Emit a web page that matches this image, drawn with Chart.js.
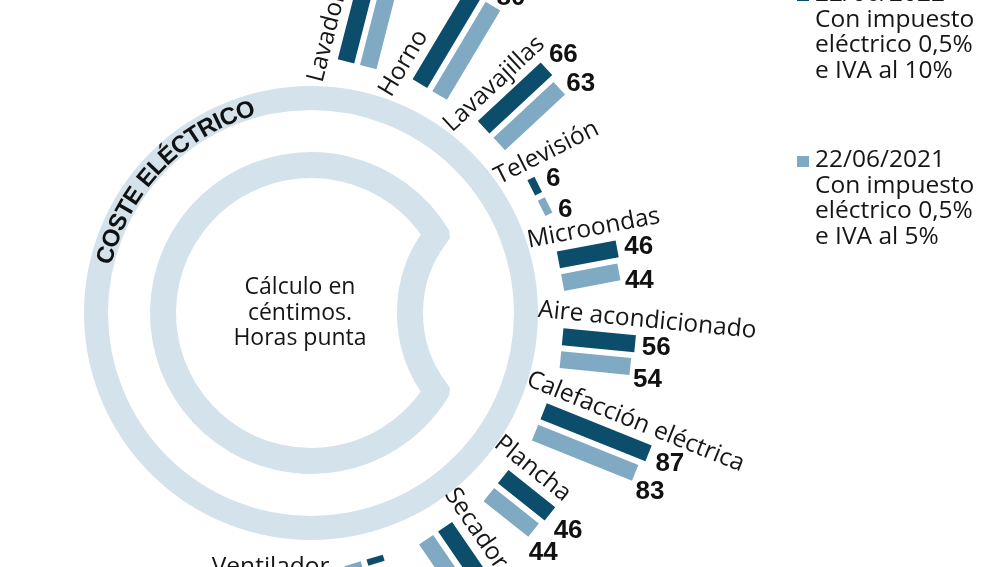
<!DOCTYPE html>
<html lang="es">
<head>
<meta charset="utf-8">
<title>Coste eléctrico</title>
<script src="https://cdn.jsdelivr.net/npm/chart.js@4/dist/chart.umd.min.js"></script>
<style>
  html, body { margin: 0; padding: 0; background: #fff; }
  #wrap { width: 1000px; height: 567px; position: relative; }
</style>
</head>
<body>
<div id="wrap"><canvas id="chart"></canvas></div>
<script>
// datos (céntimos por uso, horas punta)
const categorias = ['Lavadora', 'Horno', 'Lavavajillas', 'Televisión', 'Microondas', 'Aire acondicionado', 'Calefacción eléctrica', 'Plancha', 'Secador', 'Ventilador'];
const coste2022 = [61, 84, 66, 6, 46, 56, 87, 46, 45, 5];
const coste2021 = [58, 80, 63, 6, 44, 54, 83, 44, 43, 5];
const leyenda2022 = ['22/06/2022', 'Con impuesto', 'eléctrico 0,5%', 'e IVA al 10%'];
const leyenda2021 = ['22/06/2021', 'Con impuesto', 'eléctrico 0,5%', 'e IVA al 5%'];
const titulo = 'COSTE ELÉCTRICO';
const nota = ['Cálculo en', 'céntimos.', 'Horas punta'];

const OSCURO = '#0b4d6b';
const CLARO = '#80a9c3';
const ARO = '#d3e2eb';
const TEXTO = '#161616';

// geometría del gráfico radial (en unidades de los ejes, 1 unidad = 1 px)
const CX = 311, CY = 313;
const FOCO_X = 291, FOCO_Y = 322;
const R_INICIO = 253;
const ANG_INICIO = -79.5, PASO = 17.5;
const PX_CENT = 1.3;
const GROSOR = 17;
const SEP = 11.5;
const deg = Math.PI / 180;

function geometria(i) {
    const a = (ANG_INICIO + i * PASO) * deg;
    const sx = CX + R_INICIO * Math.cos(a);
    const sy = CY + R_INICIO * Math.sin(a);
    const d = Math.atan2(sy - FOCO_Y, sx - FOCO_X);
    return { a, sx, sy, d, ux: Math.cos(d), uy: Math.sin(d), nx: Math.sin(d), ny: -Math.cos(d) };
}

function puntosBarras(valores, desplaz) {
    const pts = [];
    valores.forEach((v, i) => {
        const g = geometria(i);
        const x0 = g.sx + desplaz * g.nx;
        const y0 = g.sy + desplaz * g.ny;
        pts.push({ x: x0, y: y0 });
        pts.push({ x: x0 + v * PX_CENT * g.ux, y: y0 + v * PX_CENT * g.uy });
        pts.push({ x: null, y: null });
    });
    return pts;
}

const decoracion = {
    id: 'decoracion',
    beforeDatasetsDraw(chart) {
        const { ctx, scales: { x, y } } = chart;
        const px = v => x.getPixelForValue(v);
        const py = v => y.getPixelForValue(v);
        const cx = px(CX), cy = py(CY);
        ctx.save();
        ctx.strokeStyle = ARO;
        ctx.lineJoin = 'miter';

        // aro exterior
        ctx.lineWidth = 24;
        ctx.beginPath();
        ctx.arc(cx, cy, 215, 0, 2 * Math.PI);
        ctx.stroke();

        // aro interior con mordisco a la derecha
        ctx.lineWidth = 26;
        ctx.beginPath();
        ctx.arc(cx, cy, 148, -32 * deg, 32 * deg, true);
        ctx.arc(px(539), py(313), 129, 142.6 * deg, 217.4 * deg, false);
        ctx.closePath();
        ctx.stroke();

        // título curvo
        ctx.fillStyle = '#111';
        ctx.font = 'bold 24px "Liberation Sans", Arial, sans-serif';
        ctx.textAlign = 'center';
        ctx.textBaseline = 'alphabetic';
        const rT = 214;
        const total = ctx.measureText(titulo).width;
        let ang = 224 * deg - total / rT / 2;
        for (const ch of titulo) {
            const w = ctx.measureText(ch).width;
            const am = ang + w / 2 / rT;
            ctx.save();
            ctx.translate(cx + rT * Math.cos(am), cy + rT * Math.sin(am));
            ctx.rotate(am + Math.PI / 2);
            ctx.fillText(ch, 0, 8.6);
            ctx.restore();
            ang += w / rT;
        }

        // nota central
        ctx.fillStyle = TEXTO;
        ctx.font = '23px "Open Sans", sans-serif';
        nota.forEach((t, k) => ctx.fillText(t, px(300), py(294 + k * 25.5)));

        // leyenda
        ctx.textAlign = 'left';
        ctx.font = '24.5px "Open Sans", sans-serif';
        [[leyenda2022, OSCURO, 1], [leyenda2021, CLARO, 167]].forEach(([lineas, color, base]) => {
            ctx.fillStyle = color;
            ctx.fillRect(px(797), py(base - 11), 12, 11);
            ctx.fillStyle = TEXTO;
            lineas.forEach((t, k) => ctx.fillText(t, px(815), py(base + k * 25.5)));
        });
        ctx.restore();
    },
    afterDatasetsDraw(chart) {
        const { ctx, scales: { x, y } } = chart;
        const px = v => x.getPixelForValue(v);
        const py = v => y.getPixelForValue(v);
        ctx.save();

        // nombres de categoría
        ctx.fillStyle = TEXTO;
        ctx.font = '24.5px "Open Sans", sans-serif';
        ctx.textBaseline = 'alphabetic';
        categorias.forEach((nombre, i) => {
            const g = geometria(i);
            if (g.a > 70 * deg) {
                ctx.textAlign = 'right';
                ctx.fillText(nombre, px(g.sx - 34), py(g.sy + 13.5));
                return;
            }
            ctx.textAlign = 'left';
            ctx.save();
            ctx.translate(px(g.sx - 27 * g.ux + 29 * g.nx), py(g.sy - 27 * g.uy + 29 * g.ny));
            ctx.rotate(g.d);
            ctx.fillText(nombre, 0, 0);
            ctx.restore();
        });

        // valores al final de cada barra
        ctx.fillStyle = '#111';
        ctx.font = 'bold 26px "Liberation Sans", Arial, sans-serif';
        ctx.textAlign = 'center';
        ctx.textBaseline = 'alphabetic';
        [[coste2022, 0, 6], [coste2021, -10, 3]].forEach(([valores, off, hueco], ds) => {
            const meta = chart.getDatasetMeta(ds);
            valores.forEach((v, i) => {
                const g = geometria(i);
                const fin = meta.data[3 * i + 1];
                const t = String(v);
                const w = ctx.measureText(t).width;
                const ext = hueco + Math.abs(g.ux) * w / 2 + Math.abs(g.uy) * 9.5;
                const mx = fin.x + ext * g.ux + off * g.nx;
                const my = fin.y + ext * g.uy + off * g.ny;
                ctx.fillText(t, mx, my + 9.3);
            });
        });
        ctx.restore();
    }
};

new Chart(document.getElementById('chart'), {
    type: 'scatter',
    data: {
        datasets: [
            {
                label: leyenda2022[0],
                data: puntosBarras(coste2022, SEP),
                showLine: true,
                borderColor: OSCURO,
                borderWidth: GROSOR,
                borderCapStyle: 'butt',
                pointRadius: 0,
                pointHoverRadius: 0,
            },
            {
                label: leyenda2021[0],
                data: puntosBarras(coste2021, -SEP),
                showLine: true,
                borderColor: CLARO,
                borderWidth: GROSOR,
                borderCapStyle: 'butt',
                pointRadius: 0,
                pointHoverRadius: 0,
            }
        ]
    },
    options: {
        responsive: true,
        maintainAspectRatio: false,
        animation: false,
        events: [],
        layout: { padding: 0 },
        scales: {
            x: { type: 'linear', min: 0, max: 1000, display: false },
            y: { type: 'linear', min: 0, max: 567, reverse: true, display: false }
        },
        plugins: {
            legend: { display: false },
            tooltip: { enabled: false }
        }
    },
    plugins: [decoracion]
});
</script>
</body>
</html>
